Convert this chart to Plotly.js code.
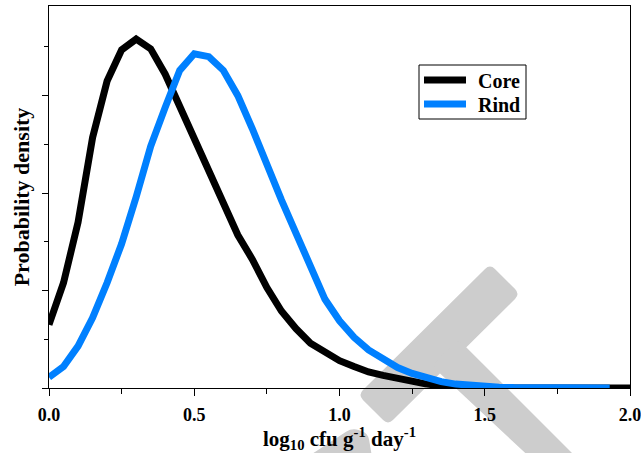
<!DOCTYPE html>
<html>
<head>
<meta charset="utf-8">
<script src="https://cdn.plot.ly/plotly-3.0.1.min.js"></script>
<style>html,body{margin:0;padding:0;background:#fff;}#chart{width:641px;height:453px;}</style>
</head>
<body>
<div id="chart"></div>
<script>
// ---- data ----
const seriesNames = ["Core", "Rind"];
const seriesColors = ["#000000", "#0080FF"];
const xCore = [0.00,0.05,0.10,0.15,0.20,0.25,0.30,0.35,0.40,0.45,0.50,0.55,0.60,0.65,0.70,0.75,0.80,0.85,0.90,0.95,1.00,1.05,1.10,1.15,1.20,1.25,1.30,1.35,1.40,1.45,1.50,1.55,1.60,1.70,1.80,1.90,2.00];
const yCore = [0.65,1.08,1.70,2.57,3.15,3.47,3.58,3.48,3.22,2.89,2.55,2.21,1.86,1.57,1.32,1.03,0.79,0.61,0.46,0.36,0.28,0.22,0.165,0.13,0.095,0.06,0.04,0.025,0.015,0.008,0.004,0.002,0.0,0.0,0.0,0.0,0.0];
const xRind = [0.00,0.05,0.10,0.15,0.20,0.25,0.30,0.35,0.40,0.45,0.50,0.55,0.60,0.65,0.70,0.75,0.80,0.85,0.90,0.95,1.00,1.05,1.10,1.15,1.20,1.25,1.30,1.35,1.40,1.45,1.50,1.55,1.60,1.65,1.70,1.80,1.93];
const yRind = [0.11,0.22,0.43,0.72,1.08,1.48,1.96,2.48,2.88,3.26,3.43,3.40,3.26,3.00,2.66,2.28,1.93,1.59,1.27,0.91,0.69,0.52,0.39,0.30,0.21,0.15,0.10,0.065,0.04,0.025,0.015,0.008,0.004,0.002,0.0,0.0,0.0];
const xTickVals = [0, 0.5, 1.0, 1.5, 2.0];
const xTickText = ["0.0", "0.5", "1.0", "1.5", "2.0"];

// ---- layout constants ----
const W = 641, H = 453;
const L = 49, R = 630, T = 6, B = 388;
const FONT = "Liberation Serif, Times New Roman, serif";
const LW = 7;

function toPaper(p) { return [(p[0] - L) / (R - L), (B - p[1]) / (B - T)]; }
function px(x) { return (x - L) / (R - L); }
function py(y) { return (B - y) / (B - T); }
function roundedPath(pts, r) {
  const n = pts.length; let d = "";
  for (let i = 0; i < n; i++) {
    const c = pts[i], pr = pts[(i - 1 + n) % n], nx = pts[(i + 1) % n];
    const dp = Math.hypot(pr[0]-c[0], pr[1]-c[1]), dn = Math.hypot(nx[0]-c[0], nx[1]-c[1]);
    const a = [c[0] + (pr[0]-c[0]) * r / dp, c[1] + (pr[1]-c[1]) * r / dp];
    const b = [c[0] + (nx[0]-c[0]) * r / dn, c[1] + (nx[1]-c[1]) * r / dn];
    const A = toPaper(a), C = toPaper(c), Bp = toPaper(b);
    d += (i === 0 ? "M" : "L") + A[0] + "," + A[1] + " Q" + C[0] + "," + C[1] + " " + Bp[0] + "," + Bp[1] + " ";
  }
  return d + "Z";
}
const grey = "rgb(205,205,205)";
const shapes = [
  [[358,395],[490,264],[520,294],[388,425]],
  [[432,366],[458,339],[582,463],[536,463]],
  [[298,463],[352,428],[368,433],[373,463]]
].map(p => ({type: "path", xref: "paper", yref: "paper", layer: "below",
  path: roundedPath(p, 7), fillcolor: grey, line: {width: 0}}));

// ---- legend box (drawn by hand to match the reference spacing) ----
const legBox = {x0: 419, x1: 526, y0: 65, y1: 119};
const legRowY = [80, 104];
shapes.push({type: "rect", xref: "paper", yref: "paper", layer: "above",
  x0: px(legBox.x0), x1: px(legBox.x1), y0: py(legBox.y1), y1: py(legBox.y0),
  fillcolor: "#ffffff", line: {color: "#000", width: 1}});
const annotations = [];
seriesNames.forEach((name, i) => {
  shapes.push({type: "line", xref: "paper", yref: "paper", layer: "above",
    x0: px(424), x1: px(466), y0: py(legRowY[i]), y1: py(legRowY[i]),
    line: {color: seriesColors[i], width: LW}});
  annotations.push({xref: "paper", yref: "paper", x: px(476), y: py(legRowY[i] + 1),
    xanchor: "left", yanchor: "middle", showarrow: false, text: "<b>" + name + "</b>",
    font: {family: FONT, size: 20, color: "#000"}});
});

const traces = [
  {x: xCore, y: yCore, name: seriesNames[0], type: "scatter", mode: "lines",
   line: {color: seriesColors[0], width: LW}},
  {x: xRind, y: yRind, name: seriesNames[1], type: "scatter", mode: "lines",
   line: {color: seriesColors[1], width: LW}}
];

const layout = {
  width: W, height: H,
  margin: {l: L, r: W - R, t: T, b: H - B, pad: 0},
  paper_bgcolor: "#ffffff", plot_bgcolor: "rgba(0,0,0,0)",
  font: {family: FONT, color: "#000", size: 18},
  showlegend: false,
  xaxis: {
    range: [0, 2.0], showgrid: false, zeroline: false,
    showline: true, linecolor: "#000", linewidth: 1.3, mirror: true,
    ticks: "outside", ticklen: 7, tickwidth: 1, tickcolor: "#000",
    tickvals: xTickVals, ticktext: xTickText, ticklabelstandoff: 3,
    ticklabeloverflow: "allow",
    tickfont: {family: FONT, size: 18, color: "#000", weight: "bold"},
    minor: {dtick: 0.25, ticks: "outside", ticklen: 5, tickwidth: 1, tickcolor: "#000", showgrid: false},
    title: {text: "<b>log<sub>10</sub> cfu g<sup>-1</sup> day<sup>-1</sup></b>",
      font: {family: FONT, size: 21, color: "#000"}, standoff: 4},
    automargin: false
  },
  yaxis: {
    range: [0, 3.92], showgrid: false, zeroline: false,
    showline: true, linecolor: "#000", linewidth: 1.3, mirror: true,
    ticks: "outside", ticklen: 6, tickwidth: 1, tickcolor: "#000",
    dtick: 1, tick0: 0, showticklabels: false,
    minor: {dtick: 0.5, ticks: "outside", ticklen: 4, tickwidth: 1, tickcolor: "#000", showgrid: false},
    title: {text: "<b>Probability density</b>", font: {family: FONT, size: 22, color: "#000"}, standoff: 6},
    automargin: false
  },
  shapes: shapes,
  annotations: annotations
};

Plotly.newPlot("chart", traces, layout, {displayModeBar: false, staticPlot: true});
</script>
</body>
</html>
